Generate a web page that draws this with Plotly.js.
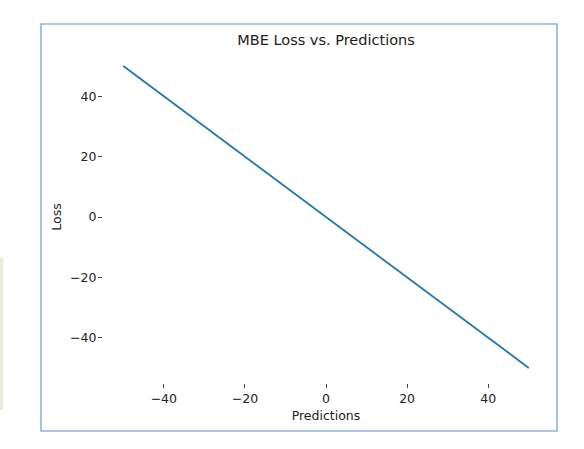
<!DOCTYPE html>
<html>
<head>
<meta charset="utf-8">
<script src="https://cdn.plot.ly/plotly-3.0.1.min.js"></script>
<style>
  html, body { margin: 0; padding: 0; background: #fff; }
  #plot { width: 584px; height: 449px; }
</style>
</head>
<body>
<div id="plot"></div>
<script>
// predictions against MBE loss (true value 0)
var predictions = [-50, -40, -30, -20, -10, 0, 10, 20, 30, 40, 50];
var loss = [50, 40, 30, 20, 10, 0, -10, -20, -30, -40, -50];
var xTicks = [-40, -20, 0, 20, 40];
var yTicks = [-40, -20, 0, 20, 40];

var font = 'DejaVu Sans, sans-serif';

var trace = {
  x: predictions,
  y: loss,
  type: 'scatter',
  mode: 'lines',
  line: {color: '#1f77b4', width: 1.8},
  hoverinfo: 'skip'
};

function axis(ticks, label, standoff, labelGap){
  return {
    range: [-55, 55],
    tickvals: ticks,
    ticks: 'outside',
    ticklen: 4,
    tickwidth: 1,
    tickcolor: '#444',
    ticklabelstandoff: labelGap,
    showline: false,
    showgrid: false,
    zeroline: false,
    tickfont: {family: font, size: 12.5, color: '#222'},
    title: {text: label, font: {family: font, size: 12.5, color: '#222'}, standoff: standoff}
  };
}

var layout = {
  width: 584,
  height: 449,
  margin: {l: 103, r: 35, t: 51, b: 66},
  paper_bgcolor: '#fff',
  plot_bgcolor: '#fff',
  showlegend: false,
  title: {
    text: 'MBE Loss vs. Predictions',
    font: {family: font, size: 14.5, color: '#222'},
    x: 0.5, xref: 'paper',
    y: 1 - 40 / 449, yanchor: 'middle'
  },
  xaxis: axis(xTicks, 'Predictions', 6, 0),
  yaxis: axis(yTicks, 'Loss', 5, -1),
  shapes: [
    {type: 'rect', xref: 'paper', yref: 'paper',
      x0: (41 - 103) / 446, x1: (557 - 103) / 446,
      y0: (383 - 431) / 332, y1: (383 - 24) / 332,
      line: {color: '#8cb4e6', width: 1.6}, fillcolor: 'rgba(0,0,0,0)'},
    {type: 'rect', xref: 'paper', yref: 'paper',
      x0: (0 - 103) / 446, x1: (3 - 103) / 446,
      y0: (383 - 410) / 332, y1: (383 - 258) / 332,
      line: {width: 0}, fillcolor: '#e3f0da'}
  ]
};

Plotly.newPlot('plot', [trace], layout, {staticPlot: true, displayModeBar: false});
</script>
</body>
</html>
